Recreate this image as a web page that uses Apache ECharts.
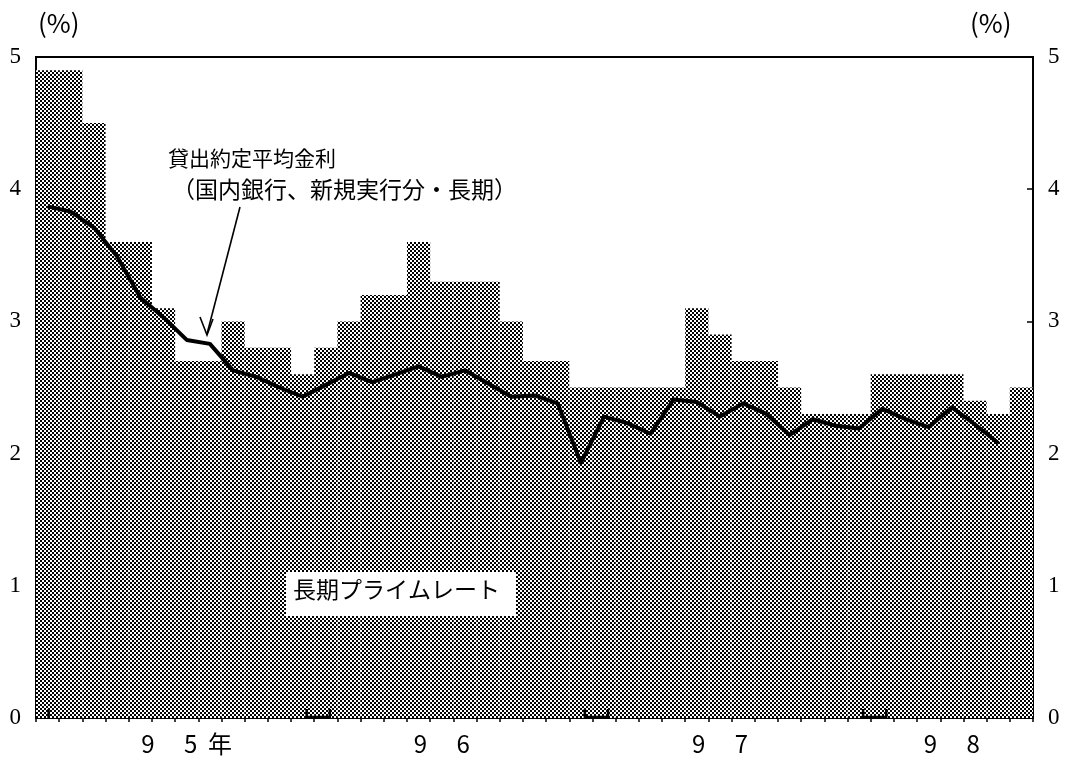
<!DOCTYPE html>
<html><head><meta charset="utf-8">
<script src="https://cdn.jsdelivr.net/npm/echarts@6/dist/echarts.min.js"></script>
<style>html,body{margin:0;padding:0;background:#fff}#c{width:1069px;height:769px}</style>
</head><body><div id="c"></div>
<script>
// Monthly categories, Jan 1995 - Jul 1998
const months = [
 '95/1','95/2','95/3','95/4','95/5','95/6','95/7','95/8','95/9','95/10','95/11','95/12',
 '96/1','96/2','96/3','96/4','96/5','96/6','96/7','96/8','96/9','96/10','96/11','96/12',
 '97/1','97/2','97/3','97/4','97/5','97/6','97/7','97/8','97/9','97/10','97/11','97/12',
 '98/1','98/2','98/3','98/4','98/5','98/6','98/7'];
// 長期プライムレート (%)
const primeRate = [
 4.9,4.9,4.5,3.6,3.6,3.1,2.7,2.7,3.0,2.8,2.8,2.6,
 2.8,3.0,3.2,3.2,3.6,3.3,3.3,3.3,3.0,2.7,2.7,2.5,
 2.5,2.5,2.5,2.5,3.1,2.9,2.7,2.7,2.5,2.3,2.3,2.3,
 2.6,2.6,2.6,2.6,2.4,2.3,2.5];
// 貸出約定平均金利（国内銀行、新規実行分・長期） (%)
const loanRate = [
 3.87,3.83,3.71,3.49,3.18,3.03,2.86,2.83,2.63,2.58,2.50,2.43,
 2.52,2.61,2.54,2.60,2.66,2.58,2.63,2.53,2.43,2.44,2.38,1.93,
 2.28,2.23,2.15,2.41,2.39,2.28,2.38,2.30,2.14,2.26,2.21,2.19,
 2.34,2.26,2.20,2.35,2.22,2.08,null];
// Year labels (shown at these category indices)
const yearLabelIndex = [6,17,29,39];
const yearLabelText = ['9\u3000 5  年','9\u3000 6','9\u3000 7','9\u3000 8'];
// Year boundary markers: first month index of each new year
const yearStartIndex = [12,24,36];

function makePattern(){
  const c=document.createElement('canvas'); c.width=4; c.height=4;
  const g=c.getContext('2d');
  g.fillStyle='#ffffff'; g.fillRect(0,0,4,4);
  g.fillStyle='#000000'; g.fillRect(0,0,2,2); g.fillRect(2,2,2,2);
  return c;
}

const chart = echarts.init(document.getElementById('c'), null, {renderer:'canvas'});
const numFont = 'Liberation Serif, "Noto Sans CJK JP", serif';
const jpFont = '"Noto Sans CJK JP", sans-serif';

const yAxisCommon = {
  type:'value', min:0, max:5, interval:1,
  splitLine:{show:false},
  axisLine:{show:true, lineStyle:{color:'#000', width:2}},
  axisTick:{show:true, inside:true, length:6, lineStyle:{color:'#000', width:1.5}},
  axisLabel:{color:'#000', fontSize:23, fontFamily:numFont, margin:15}
};

const baseOption = {
  animation:false,
  backgroundColor:'#fff',
  grid:{left:36, right:36, top:57, bottom:51, show:true, borderColor:'#000', borderWidth:2, backgroundColor:'transparent'},
  xAxis:{
    type:'category', data:months, boundaryGap:true,
    axisLine:{show:true, lineStyle:{color:'#000', width:2}},
    axisTick:{show:true, interval:0, length:4, lineStyle:{color:'#000', width:1.5}},
    axisLabel:{
      interval:function(i){ return yearLabelIndex.indexOf(i)>=0; },
      formatter:function(v,i){ const k=yearLabelIndex.indexOf(i); return k>=0?yearLabelText[k]:''; },
      color:'#000', fontSize:24, fontFamily:jpFont, margin:14
    },
    splitLine:{show:false}
  },
  yAxis:[
    Object.assign({}, yAxisCommon, {position:'left'}),
    Object.assign({}, yAxisCommon, {position:'right'})
  ],
  series:[
    {type:'bar', data:primeRate, barWidth:'100%', barCategoryGap:'0%', yAxisIndex:0,
      itemStyle:{color:{image:makePattern(), repeat:'repeat'}}, silent:true, z:1},
    {type:'line', data:loanRate, yAxisIndex:0, showSymbol:false, symbol:'none',
      lineStyle:{color:'#000', width:4, join:'round'}, z:3, silent:true}
  ]
};
chart.setOption(baseOption);

const graphics = [
  {id:'unitL', type:'text', left:38, top:10, z:10, style:{text:'(%)', fill:'#000', font:'26px "Noto Sans CJK JP"'}},
  {id:'unitR', type:'text', left:970, top:10, z:10, style:{text:'(%)', fill:'#000', font:'26px "Noto Sans CJK JP"'}},
  {id:'ann1', type:'text', left:168, top:148, z:10, style:{text:'貸出約定平均金利', fill:'#000', font:'21px "Noto Sans CJK JP"'}},
  {id:'ann2', type:'text', left:172, top:178, z:10, style:{text:'（国内銀行、新規実行分・長期）', fill:'#000', font:'23px "Noto Sans CJK JP"'}},
  {id:'arrow', type:'line', z:10, shape:{x1:240, y1:207, x2:207, y2:334}, style:{stroke:'#000', lineWidth:1.6}},
  {id:'arrowHead', type:'polyline', z:10, shape:{points:[[200,317],[207,335],[213,319]]}, style:{stroke:'#000', lineWidth:1.6, fill:null}},
  {id:'boxBg', type:'rect', z:10, shape:{x:286, y:572, width:230, height:44}, style:{fill:'#fff'}},
  {id:'boxTxt', type:'text', z:11, left:293, top:578, style:{text:'長期プライムレート', fill:'#000', font:'23px "Noto Sans CJK JP"'}}
];

// year-boundary bracket marks along the x axis, positioned via the chart's scales
const p0 = chart.convertToPixel({xAxisIndex:0, yAxisIndex:0}, [0, 0]);
graphics.push({id:'mk0', type:'line', z:12, shape:{x1:p0[0]+1, y1:p0[1]-9, x2:p0[0]+1, y2:p0[1]}, style:{stroke:'#000', lineWidth:2.5}});
yearStartIndex.forEach(function(idx, j){
  const a = chart.convertToPixel({xAxisIndex:0, yAxisIndex:0}, [idx-1, 0]);
  const b = chart.convertToPixel({xAxisIndex:0, yAxisIndex:0}, [idx, 0]);
  const x1 = a[0]+4, x2 = b[0]+4, y = a[1];
  graphics.push({id:'mk'+(j+1), type:'polyline', z:12, shape:{points:[[x1,y-9],[x1,y-1],[x2,y-1],[x2,y-9]]},
    style:{stroke:'#000', lineWidth:2.5, fill:null}});
});
chart.setOption({graphic: graphics});
</script>
</body></html>
